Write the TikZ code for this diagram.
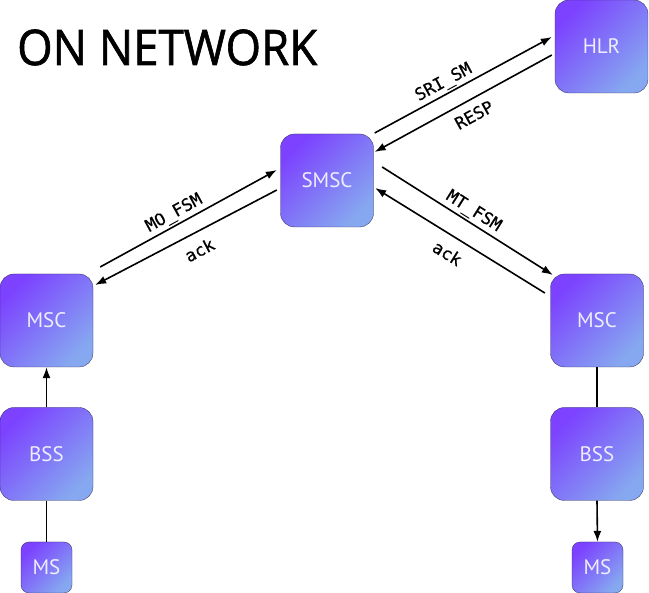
\documentclass[tikz,border=0pt]{standalone}
\usepackage{fontspec}
\setmainfont{PT Sans}
\newfontfamily\titlefont[FakeBold=1.3]{Open Sans}
\newfontfamily\monofont[FakeBold=0.6]{DejaVu Sans Mono}
\usetikzlibrary{arrows.meta,calc}
\definecolor{gtop}{HTML}{7C42FF}
\definecolor{gbot}{HTML}{86A8F0}
\definecolor{boxtext}{HTML}{EEEEFF}
\definecolor{boxedge}{HTML}{2A2A55}
\begin{document}
\begin{tikzpicture}[x=1pt,y=-1pt,
 unit/.style={rectangle, rounded corners=14pt, minimum width=93pt, minimum height=93pt, inner sep=0pt,
   top color=gtop, bottom color=gbot, shading angle=45, draw=boxedge, line width=0.3pt,
   text=boxtext, font=\fontsize{21}{21}\selectfont},
 smallunit/.style={unit, minimum width=51pt, minimum height=51pt, rounded corners=8pt},
 link/.style={line width=1.6pt, draw=black},
 arr/.style={link, -{Latex[length=11pt,width=8pt]}},
 lbl/.style={font=\monofont\fontsize{17}{17}\selectfont, sloped, inner sep=2pt}
]
\useasboundingbox (0,0) rectangle (649,593);
\node[anchor=base west, inner sep=0pt, font=\titlefont\fontsize{49}{49}\selectfont] (title) at (17,65) {\scalebox{0.93}[1]{ON NETWORK}};

\node[unit] (hlr) at (601.5,46.5) {HLR};
\node[unit] (smsc) at (327,180.5) {SMSC};
\node[unit] (mscL) at (46.5,320.5) {MSC};
\node[unit] (bssL) at (46.5,454) {BSS};
\node[smallunit] (msL) at (46.5,567.5) {MS};
\node[unit] (mscR) at (597,320.5) {MSC};
\node[unit] (bssR) at (597,454) {BSS};
\node[smallunit] (msR) at (597.5,567.5) {MS};

% SMSC <-> HLR
\draw[arr] ([xshift=1pt,yshift=47.5pt]smsc.east) -- node[lbl, above, pos=0.42] {SRI\_SM} ([xshift=-3pt,yshift=9.5pt]hlr.west);
\draw[arr] ([xshift=-3pt,yshift=-8.5pt]hlr.west) -- node[lbl, below, pos=0.48, inner sep=8pt] {RESP} ([xshift=1pt,yshift=28.5pt]smsc.east);
% MSC left <-> SMSC
\draw[arr] ([xshift=7pt,yshift=53.5pt]mscL.east) -- node[lbl, above, pos=0.45] {MO\_FSM} ([xshift=-3.5pt,yshift=10.5pt]smsc.west);
\draw[arr] ([xshift=-3.5pt,yshift=-9.5pt]smsc.west) -- node[lbl, below, pos=0.47, inner sep=10pt] {ack} ([xshift=2pt,yshift=35.5pt]mscL.east);
% SMSC <-> MSC right
\draw[arr] ([xshift=8.5pt,yshift=13.5pt]smsc.east) -- node[lbl, above, pos=0.5] {MT\_FSM} ([xshift=2.5pt,yshift=45.5pt]mscR.west);
\draw[arr] ([xshift=-5.5pt,yshift=27.5pt]mscR.west) -- node[lbl, below, pos=0.52, inner sep=10pt] {ack} ([xshift=1.5pt,yshift=-7.5pt]smsc.east);
% verticals
\draw[arr] (bssL.north) -- (mscL.south);
\draw[link] (msL.north) -- (bssL.south);
\draw[link] (mscR.south) -- (bssR.north);
\draw[arr] (bssR.south) -- (msR.north);
\end{tikzpicture}
\end{document}
